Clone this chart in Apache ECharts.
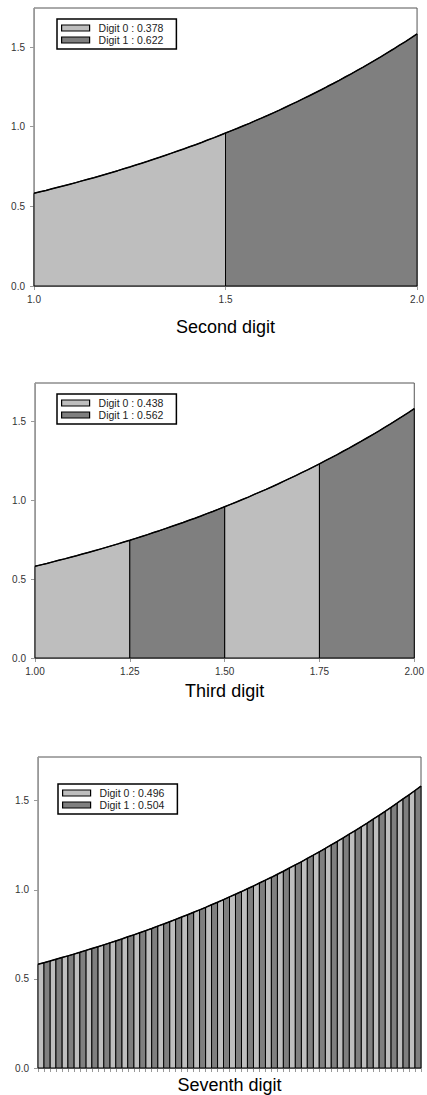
<!DOCTYPE html>
<html>
<head>
<meta charset="utf-8">
<title>Binary digit densities</title>
<script src="https://cdn.jsdelivr.net/npm/echarts@6/dist/echarts.min.js"></script>
<style>
  html, body { margin: 0; padding: 0; background: #fff; }
  #chart { width: 427px; height: 1095px; }
</style>
</head>
<body>
<div id="chart"></div>
<script>
// density curve, one value every 1/64 from x = 1 to x = 2
var densityY = [
  0.582, 0.591, 0.600, 0.610, 0.620, 0.629, 0.639, 0.649,
  0.660, 0.670, 0.680, 0.691, 0.702, 0.713, 0.724, 0.736,
  0.747, 0.759, 0.771, 0.783, 0.796, 0.808, 0.821, 0.834,
  0.847, 0.860, 0.874, 0.887, 0.901, 0.916, 0.930, 0.945,
  0.960, 0.975, 0.990, 1.006, 1.021, 1.038, 1.054, 1.070,
  1.087, 1.104, 1.122, 1.140, 1.157, 1.176, 1.194, 1.213,
  1.232, 1.252, 1.271, 1.291, 1.312, 1.332, 1.353, 1.374,
  1.396, 1.418, 1.440, 1.463, 1.486, 1.510, 1.533, 1.557,
  1.582
];
var curveX = densityY.map(function (v, k) { return 1 + k / 64; });

// where the shaded regions change digit
var secondBreaks = [1, 1.5, 2];
var thirdBreaks = [1, 1.25, 1.5, 1.75, 2];
var seventhBreaks = curveX;

// legend probabilities
var secondProbs = [0.378, 0.622];
var thirdProbs = [0.438, 0.562];
var seventhProbs = [0.496, 0.504];

// ticks
var yTicks = [0, 0.5, 1, 1.5];
var secondTicks = [1, 1.5, 2];
var thirdTicks = [1, 1.25, 1.5, 1.75, 2];
var seventhTicks = curveX;

var digitNames = ["Digit 0", "Digit 1"];
var fills = ["#bebebe", "#7f7f7f"];
var font = "Liberation Sans, Arial, sans-serif";

var panels = [
  { title: "Second digit", breaks: secondBreaks, probs: secondProbs, ticks: secondTicks, dec: 1,
    grid: { left: 34, top: 8, width: 386, height: 278 }, legend: { left: 57, top: 19 }, nameGap: 32, labels: true },
  { title: "Third digit", breaks: thirdBreaks, probs: thirdProbs, ticks: thirdTicks, dec: 2,
    grid: { left: 35, top: 383, width: 383, height: 275 }, legend: { left: 57, top: 394 }, nameGap: 24, labels: true },
  { title: "Seventh digit", breaks: seventhBreaks, probs: seventhProbs, ticks: seventhTicks, dec: 2,
    grid: { left: 38, top: 757, width: 383, height: 311 }, legend: { left: 58, top: 784 }, nameGap: 8, labels: false }
];

function renderRegion(params, api) {
  var x0 = api.value(0);
  var x1 = api.value(1);
  var pts = [api.coord([x0, 0])];
  for (var k = 0; k < curveX.length; k++) {
    if (curveX[k] >= x0 - 1e-9 && curveX[k] <= x1 + 1e-9) {
      pts.push(api.coord([curveX[k], densityY[k]]));
    }
  }
  pts.push(api.coord([x1, 0]));
  return {
    type: "polygon",
    shape: { points: pts },
    style: { fill: api.visual("color"), stroke: "#000", lineWidth: 1 }
  };
}

var grids = [], xAxes = [], yAxes = [], legends = [], series = [];

panels.forEach(function (p, i) {
  grids.push(Object.assign({ show: true, borderColor: "#555", borderWidth: 1, containLabel: false }, p.grid));

  xAxes.push({
    gridIndex: i, type: "value", min: 1, max: 2,
    name: p.title, nameLocation: "middle", nameGap: p.nameGap,
    nameTextStyle: { fontSize: 18, color: "#000", fontFamily: font },
    axisLine: { show: true, onZero: false, lineStyle: { color: "#999" } },
    axisTick: { show: true, length: 4, customValues: p.ticks, lineStyle: { color: "#999" } },
    axisLabel: {
      show: p.labels, customValues: p.ticks, margin: 8, fontSize: 10, color: "#333", fontFamily: font,
      formatter: function (v) { return v.toFixed(p.dec); }
    },
    splitLine: { show: false }
  });

  yAxes.push({
    gridIndex: i, type: "value", min: 0, max: 1.745,
    axisLine: { show: true, lineStyle: { color: "#999" } },
    axisTick: { show: true, length: 4, customValues: yTicks, lineStyle: { color: "#999" } },
    axisLabel: {
      customValues: yTicks, margin: 9, fontSize: 10, color: "#333", fontFamily: font,
      formatter: function (v) { return v.toFixed(1); }
    },
    splitLine: { show: false }
  });

  legends.push({
    left: p.legend.left, top: p.legend.top, orient: "vertical",
    padding: [3, 13, 3, 4], itemGap: 0, itemWidth: 28, itemHeight: 6,
    borderColor: "#000", borderWidth: 1.5, backgroundColor: "#fff",
    selectedMode: false,
    textStyle: { fontSize: 10.5, color: "#222", fontFamily: font, padding: [0, 0, 0, 4], lineHeight: 12 },
    data: digitNames.map(function (n, d) {
      return { name: n, icon: "rect", itemStyle: { color: fills[d], borderColor: "#000", borderWidth: 1.2 } };
    }),
    formatter: function (name) {
      return name + " : " + p.probs[digitNames.indexOf(name)].toFixed(3);
    }
  });

  digitNames.forEach(function (n, d) {
    var regions = [];
    for (var j = 0; j < p.breaks.length - 1; j++) {
      if (j % 2 === d) regions.push([p.breaks[j], p.breaks[j + 1]]);
    }
    series.push({
      name: n, type: "custom", xAxisIndex: i, yAxisIndex: i,
      renderItem: renderRegion, itemStyle: { color: fills[d] },
      encode: { x: [0, 1] }, data: regions, silent: true, z: 2
    });
  });

  series.push({
    name: "density", type: "line", xAxisIndex: i, yAxisIndex: i,
    data: curveX.map(function (x, k) { return [x, densityY[k]]; }),
    showSymbol: false, silent: true, z: 3,
    lineStyle: { color: "#000", width: 1.5 }
  });
});

var myChart = echarts.init(document.getElementById("chart"), null, { renderer: "svg" });
myChart.setOption({
  backgroundColor: "#fff",
  animation: false,
  grid: grids,
  xAxis: xAxes,
  yAxis: yAxes,
  legend: legends,
  series: series
});
window.onresize = function () { myChart.resize(); };
</script>
</body>
</html>
